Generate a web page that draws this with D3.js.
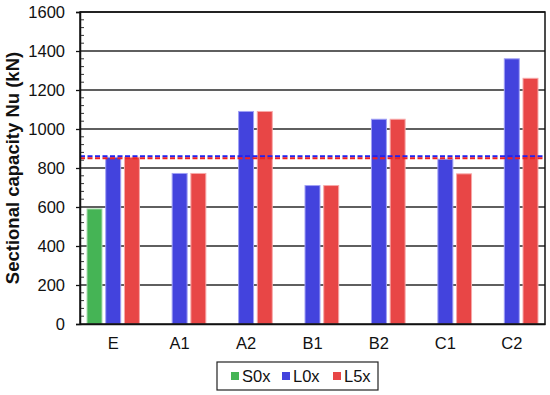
<!DOCTYPE html>
<html>
<head>
<meta charset="utf-8">
<script src="https://cdn.jsdelivr.net/npm/d3@7"></script>
<style>
  body { margin: 0; background: #fff; }
  text { font-family: "Liberation Sans", Arial, sans-serif; }
</style>
</head>
<body>
<svg id="chart" width="550" height="395"></svg>
<script>
const categories = ["E", "A1", "A2", "B1", "B2", "C1", "C2"];
const seriesNames = ["S0x", "L0x", "L5x"];
const s0xValues = [590, null, null, null, null, null, null];
const l0xValues = [855, 772, 1090, 710, 1050, 845, 1360];
const l5xValues = [855, 772, 1090, 710, 1050, 770, 1260];
const refLines = [860, 850]; // L0x, L5x dashed reference levels
const yTicks = [0, 200, 400, 600, 800, 1000, 1200, 1400, 1600];

const COLORS = { S0x: "#45b455", L0x: "#4343dd", L5x: "#e84646" };
const EDGES = { S0x: "#a8dcae", L0x: "#a0a0f5", L5x: "#f7a8a8" };
const FONT = 16.5;

const margin = { top: 12, right: 5, bottom: 71, left: 80 };
const width = 550 - margin.left - margin.right;
const height = 395 - margin.top - margin.bottom;

const svg = d3.select("#chart");
const g = svg.append("g").attr("transform", `translate(${margin.left},${margin.top})`);

const x0 = d3.scaleBand().domain(categories).range([0, width]).padding(0);
const x1 = d3.scaleBand().domain(seriesNames).range([0, x0.bandwidth()])
  .paddingInner(0.2).paddingOuter(0.375);
const y = d3.scaleLinear().domain([0, 1600]).range([height, 0]);

// gridlines
g.selectAll(".grid")
  .data(yTicks.slice(1))
  .enter()
  .append("line")
  .attr("x1", 0)
  .attr("x2", width)
  .attr("y1", (d) => y(d))
  .attr("y2", (d) => y(d))
  .attr("stroke", "#2a2a2a")
  .attr("stroke-width", 1.4);

// bars
const table = [s0xValues, l0xValues, l5xValues];
const barData = [];
categories.forEach((c, i) => {
  seriesNames.forEach((s, j) => {
    if (table[j][i] != null) barData.push({ cat: c, series: s, value: table[j][i] });
  });
});

g.selectAll(".bar")
  .data(barData)
  .enter()
  .append("rect")
  .attr("x", (d) => x0(d.cat) + x1(d.series))
  .attr("y", (d) => y(d.value))
  .attr("width", x1.bandwidth())
  .attr("height", (d) => height - y(d.value))
  .attr("fill", (d) => COLORS[d.series])
  .attr("stroke", (d) => EDGES[d.series])
  .attr("stroke-width", 1);

// dashed reference lines
g.selectAll(".ref")
  .data(refLines)
  .enter()
  .append("line")
  .attr("x1", 0)
  .attr("x2", width)
  .attr("y1", (d) => y(d))
  .attr("y2", (d) => y(d))
  .attr("stroke", (d, i) => (i === 0 ? "#2222ee" : "#ee2222"))
  .attr("stroke-width", 2)
  .attr("stroke-dasharray", "5,2.5");

// frame
g.append("rect")
  .attr("x", 0)
  .attr("y", 0)
  .attr("width", width)
  .attr("height", height)
  .attr("fill", "none")
  .attr("stroke", "#111")
  .attr("stroke-width", 1.5);

// y axis
const yAxis = d3.axisLeft(y).tickValues(yTicks).tickFormat(d3.format("d"))
  .tickSize(4).tickPadding(11);
const ya = g.append("g").call(yAxis);
ya.select(".domain").attr("stroke", "#111").attr("stroke-width", 1.5);
ya.selectAll(".tick line").attr("stroke", "#111").attr("stroke-width", 1.3);
ya.selectAll("text").attr("font-size", FONT).attr("fill", "#111");

// minor ticks (inside)
g.selectAll(".minor")
  .data(d3.range(0, 1601, 40).filter((v) => v % 200 !== 0))
  .enter()
  .append("line")
  .attr("x1", 1)
  .attr("x2", 4)
  .attr("y1", (d) => y(d))
  .attr("y2", (d) => y(d))
  .attr("stroke", "#333")
  .attr("stroke-width", 1);

// x axis
const xAxis = d3.axisBottom(x0).tickSize(0).tickPadding(13);
const xa = g.append("g").attr("transform", `translate(0,${height})`).call(xAxis);
xa.select(".domain").attr("stroke", "#111").attr("stroke-width", 1.5);
xa.selectAll("text").attr("font-size", FONT).attr("fill", "#111");

// y label
svg.append("text")
  .attr("transform", `translate(19,${margin.top + height / 2}) rotate(-90)`)
  .attr("text-anchor", "middle")
  .attr("font-size", 18.5)
  .attr("font-weight", "bold")
  .attr("fill", "#111")
  .text("Sectional capacity Nu (kN)");

// legend
const legend = svg.append("g").attr("transform", "translate(217,362)");
legend.append("rect")
  .attr("width", 161)
  .attr("height", 28)
  .attr("fill", "#fff")
  .attr("stroke", "#222")
  .attr("stroke-width", 1.2);
const items = legend.selectAll(".item")
  .data(seriesNames)
  .enter()
  .append("g")
  .attr("transform", (d, i) => `translate(${14 + i * 51},0)`);
items.append("rect")
  .attr("x", 0)
  .attr("y", 10)
  .attr("width", 8)
  .attr("height", 8)
  .attr("fill", (d) => COLORS[d]);
items.append("text")
  .attr("x", 11)
  .attr("y", 20)
  .attr("font-size", FONT)
  .attr("fill", "#111")
  .text((d) => d);
</script>
</body>
</html>
